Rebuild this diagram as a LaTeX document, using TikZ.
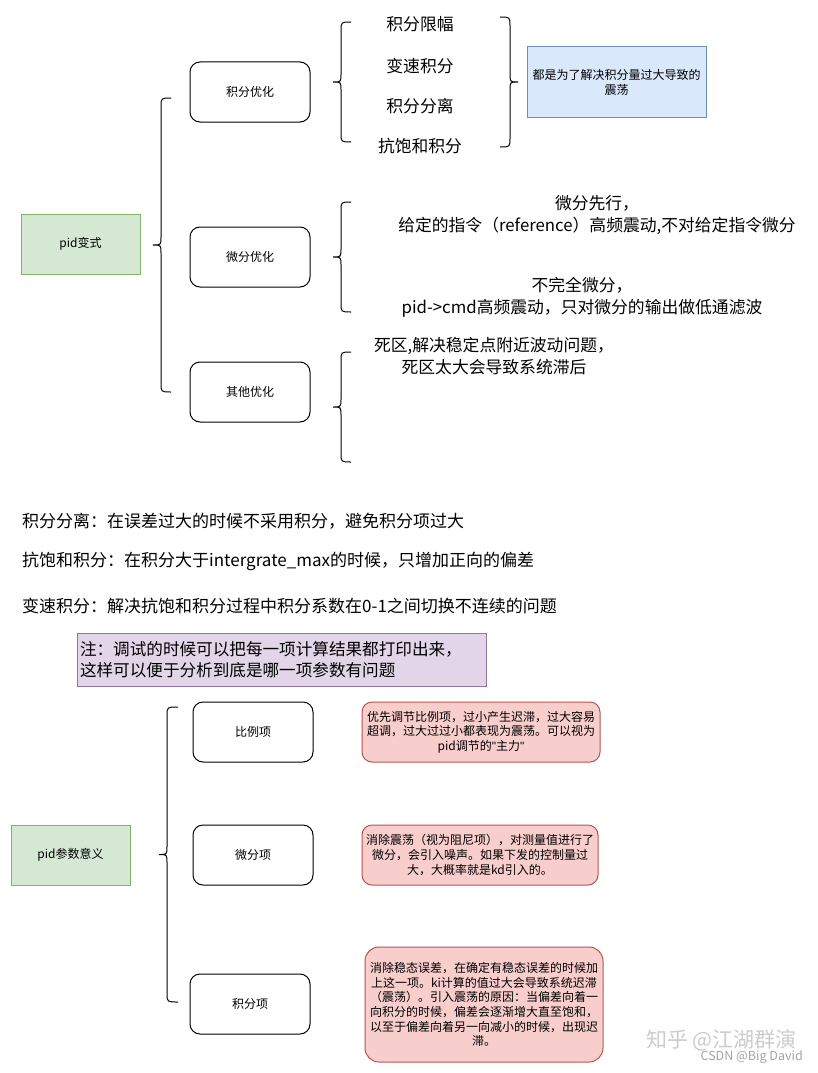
\documentclass[tikz,border=0pt]{standalone}
\usepackage{fontspec}
\setmainfont{Noto Sans CJK SC}
\newfontfamily\latinq{Liberation Sans}
\definecolor{gfill}{HTML}{D5E8D4}\definecolor{gdraw}{HTML}{82B366}
\definecolor{bfill}{HTML}{DAE8FC}\definecolor{bdraw}{HTML}{6C8EBF}
\definecolor{pfill}{HTML}{E1D5E7}\definecolor{pdraw}{HTML}{9673A6}
\definecolor{rfill}{HTML}{F8CECC}\definecolor{rdraw}{HTML}{B85450}
\newcommand{\mybrace}[5]{%
  \pgfmathsetmacro{\bmid}{(#4+#5)/2}%
  \draw[bracestyle] (#3,#4) .. controls (#2,#4) .. (#2,#4+9) -- (#2,\bmid-8)
    .. controls (#2,\bmid) .. (#1,\bmid) .. controls (#2,\bmid) .. (#2,\bmid+8)
    -- (#2,#5-9) .. controls (#2,#5) .. (#3,#5);}
\tikzset{
  bracestyle/.style={line width=1pt, black},
  bigtext/.style={font=\fontsize{16.8}{22}\selectfont, inner sep=0pt, align=center},
  leftline/.style={font=\fontsize{17}{22}\selectfont, inner sep=0pt, anchor=west},
  whitebox/.style={draw=black, line width=1pt, rounded corners=10pt, fill=white,
    minimum width=120pt, minimum height=60pt, inner sep=0pt, font=\fontsize{12}{14}\selectfont},
  greenbox/.style={draw=gdraw, fill=gfill, line width=1pt,
    minimum width=119pt, minimum height=60pt, inner sep=0pt, font=\fontsize{12}{14}\selectfont},
  redbox/.style={draw=rdraw, fill=rfill, line width=1pt, rounded corners=10pt,
    inner sep=0pt, align=center, font=\fontsize{12}{14.6}\selectfont},
}
\begin{document}
\begin{tikzpicture}[x=1pt,y=-1pt]
\useasboundingbox[fill=white] (0,0) rectangle (818,1073);

% ---------- top section ----------
\node[greenbox] (pidbs) at (80.5,244) {pid变式};
\node[whitebox] (jf) at (250,92) {积分优化};
\node[whitebox] (wf) at (250,257) {微分优化};
\node[whitebox] (qt) at (250,392) {其他优化};

\mybrace{153}{161}{171}{98}{392}

\mybrace{333}{341}{351}{22}{142}
\node[bigtext] (t1) at (420,24) {积分限幅};
\node[bigtext] (t2) at (420,66) {变速积分};
\node[bigtext] (t3) at (420,106) {积分分离};
\node[bigtext] (t4) at (420,146) {抗饱和积分};
\mybrace{518}{510}{500}{17}{147}

\node[draw=bdraw, fill=bfill, line width=1pt, minimum width=179pt, minimum height=70pt,
  inner sep=0pt, align=center, font=\fontsize{12}{15}\selectfont] (blue) at (616.5,82)
  {都是为了解决积分量过大导致的\\震荡};

\mybrace{333}{341}{351}{202}{312}
\node[bigtext] (wd1) at (597,215) {微分先行，\\给定的指令（reference）高频震动,不对给定指令微分};
\node[bigtext] (wd2) at (582,297.5) {不完全微分，\\pid->cmd高频震动，只对微分的输出做低通滤波};

\mybrace{333}{341}{351}{352}{462}
\node[bigtext] (sq) at (494,356.5) {死区,解决稳定点附近波动问题，\\死区太大会导致系统滞后};

% ---------- middle notes ----------
\node[leftline] (n1) at (22,521) {积分分离：在误差过大的时候不采用积分，避免积分项过大};
\node[leftline] (n2) at (22,561) {抗饱和积分：在积分大于intergrate\_max的时候，只增加正向的偏差};
\node[leftline] (n3) at (22,606) {变速积分：解决抗饱和积分过程中积分系数在0-1之间切换不连续的问题};

\node[draw=pdraw, fill=pfill, line width=1pt, minimum width=409pt, minimum height=53pt,
  inner xsep=3pt, inner ysep=0pt, text width=403pt, align=left,
  font=\fontsize{16.6}{21}\selectfont] (note) at (281.5,659.5)
  {注：调试的时候可以把每一项计算结果都打印出来，\\这样可以便于分析到底是哪一项参数有问题};

% ---------- bottom section ----------
\node[greenbox] (pidyy) at (70.5,855) {pid参数意义};
\mybrace{159}{167}{178}{707}{1002}
\node[whitebox] (bl) at (253,732) {比例项};
\node[whitebox] (wfx) at (253,855) {微分项};
\node[whitebox] (jfx) at (250,1004) {积分项};

\node[redbox, minimum width=238pt, minimum height=60pt] (r1) at (481,732)
  {优先调节比例项，过小产生迟滞，过大容易\\超调，过大过过小都表现为震荡。可以视为\\pid调节的{\latinq\symbol{"22}}主力{\latinq\symbol{"22}}};
\node[redbox, minimum width=236pt, minimum height=60pt] (r2) at (480,855)
  {消除震荡（视为阻尼项），对测量值进行了\\微分，会引入噪声。如果下发的控制量过\\大，大概率就是kd引入的。};
\node[redbox, rounded corners=14pt, minimum width=238pt, minimum height=115pt] (r3) at (484,1004.5)
  {消除稳态误差，在确定有稳态误差的时候加\\上这一项。ki计算的值过大会导致系统迟滞\\（震荡）。引入震荡的原因：当偏差向着一\\向积分的时候，偏差会逐渐增大直至饱和，\\以至于偏差向着另一向减小的时候，出现迟\\滞。};

% ---------- watermark ----------
\node[inner sep=0pt, anchor=east, text=black!20, font=\fontsize{21}{24}\selectfont] (wm1) at (797,1040) {知乎 @江湖群演};
\node[inner sep=0pt, anchor=east, text=black!35, font=\fontsize{12.5}{14}\selectfont] (wm2) at (803,1057) {CSDN @Big David};
\end{tikzpicture}
\end{document}
